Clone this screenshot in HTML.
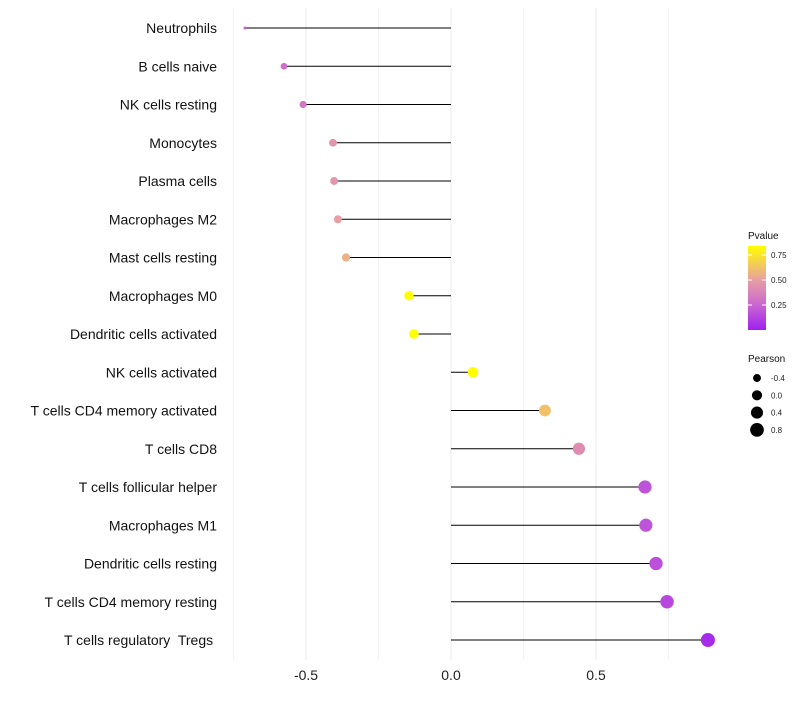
<!DOCTYPE html>
<html><head><meta charset="utf-8"><style>
body{margin:0;background:#fff;font-family:"Liberation Sans",sans-serif}
text{white-space:pre}
</style></head><body>
<svg id="chart" width="800" height="700" xmlns="http://www.w3.org/2000/svg" font-family="Liberation Sans, sans-serif"></svg>
<script>
const categories=["Neutrophils","B cells naive","NK cells resting","Monocytes","Plasma cells","Macrophages M2","Mast cells resting","Macrophages M0","Dendritic cells activated","NK cells activated","T cells CD4 memory activated","T cells CD8","T cells follicular helper","Macrophages M1","Dendritic cells resting","T cells CD4 memory resting","T cells regulatory  Tregs "];
const pearson=[-0.71,-0.576,-0.51,-0.407,-0.403,-0.39,-0.362,-0.145,-0.128,0.076,0.324,0.441,0.669,0.672,0.707,0.745,0.886];
const pvalues=[0.22,0.28,0.32,0.45,0.46,0.5,0.56,0.84,0.84,0.84,0.62,0.42,0.18,0.18,0.17,0.14,0.04];
const xTicks=[-0.5,0,0.5];
const xTickLabels=["-0.5","0.0","0.5"];
const gridMinor=[-0.75,-0.25,0.25,0.75];
const pTicks=[0.25,0.5,0.75];
const pTickLabels=["0.25","0.50","0.75"];
const sizeTicks=[-0.4,0.0,0.4,0.8];
const sizeTickLabels=["-0.4","0.0","0.4","0.8"];

const svg=document.getElementById('chart');
const NS='http://www.w3.org/2000/svg';
function mk(t,a){const e=document.createElementNS(NS,t);for(const k in a)e.setAttribute(k,a[k]);svg.appendChild(e);return e;}
const x=v=>451+v*290;
const y=i=>28+i*38.25;
const pMin=0,pMax=0.84;
function lerp(a,b,t){return a.map((v,i)=>Math.round(v+(b[i]-v)*t));}
const stops=[[0,[160,32,240]],[0.33,[205,110,205]],[0.6,[232,160,160]],[1,[255,255,0]]];
function col(p){const t=Math.max(0,Math.min(1,(p-pMin)/(pMax-pMin)));
 for(let k=1;k<stops.length;k++){if(t<=stops[k][0]){const a=stops[k-1],b=stops[k];return `rgb(${lerp(a[1],b[1],(t-a[0])/(b[0]-a[0]))})`;}}
 return 'rgb(255,255,0)';}
function rad(v){let r2=11+26*(v+0.58);if(v<-0.6)r2=2.25+(v+0.71)*(11-2.25)/0.13;return Math.sqrt(Math.max(2.25,r2));}

gridMinor.forEach(v=>{const g=mk('line',{x1:x(v),x2:x(v),y1:8,y2:660,stroke:'#f2f2f2','stroke-width':1});

});
xTicks.forEach((v,i)=>{const g=mk('line',{x1:x(v),x2:x(v),y1:8,y2:660,stroke:'#ebebeb','stroke-width':1});


const t=mk('text',{x:x(v),y:680,'text-anchor':'middle','font-size':14,fill:'#222'});t.textContent=xTickLabels[i];

});
categories.forEach((c,i)=>{
 const t=mk('text',{x:217,y:y(i)+5,'text-anchor':'end','font-size':14,fill:'#111'});t.textContent=c;
 
 
 const l=mk('line',{x1:x(0),x2:x(pearson[i]),y1:y(i),y2:y(i),stroke:'#000','stroke-width':1});
 
 
 const d=mk('circle',{cx:x(pearson[i]),cy:y(i),r:rad(pearson[i]),fill:col(pvalues[i])});
 
 
});
const lt=mk('text',{x:748,y:239,'font-size':10,fill:'#111'});lt.textContent='Pvalue';


const defs=mk('defs',{});
const lg=document.createElementNS(NS,'linearGradient');lg.setAttribute('id','pg');lg.setAttribute('x1','0');lg.setAttribute('y1','1');lg.setAttribute('x2','0');lg.setAttribute('y2','0');
for(let f=0;f<=1.0001;f+=0.1){const s=document.createElementNS(NS,'stop');s.setAttribute('offset',f);s.setAttribute('stop-color',col(pMin+f*(pMax-pMin)));lg.appendChild(s);}
defs.appendChild(lg);
const cb=mk('rect',{x:748,y:246,width:18,height:84,fill:'url(#pg)'});


const py=p=>330-(p-pMin)/(pMax-pMin)*84;
pTicks.forEach((p,i)=>{mk('line',{x1:748,x2:752,y1:py(p),y2:py(p),stroke:'#fff'});mk('line',{x1:762,x2:766,y1:py(p),y2:py(p),stroke:'#fff'});
 const t=mk('text',{x:771,y:py(p)+3,'font-size':8,fill:'#222'});t.textContent=pTickLabels[i];
 
 });
const st=mk('text',{x:748,y:362,'font-size':10,fill:'#111'});st.textContent='Pearson';


sizeTicks.forEach((v,i)=>{const cy=378+i*17.3;
 const c=mk('circle',{cx:757,cy:cy,r:rad(v),fill:'#000'});
 
 
 const t=mk('text',{x:771,y:cy+3,'font-size':8,fill:'#222'});t.textContent=sizeTickLabels[i];
 
 });
</script>
</body></html>
